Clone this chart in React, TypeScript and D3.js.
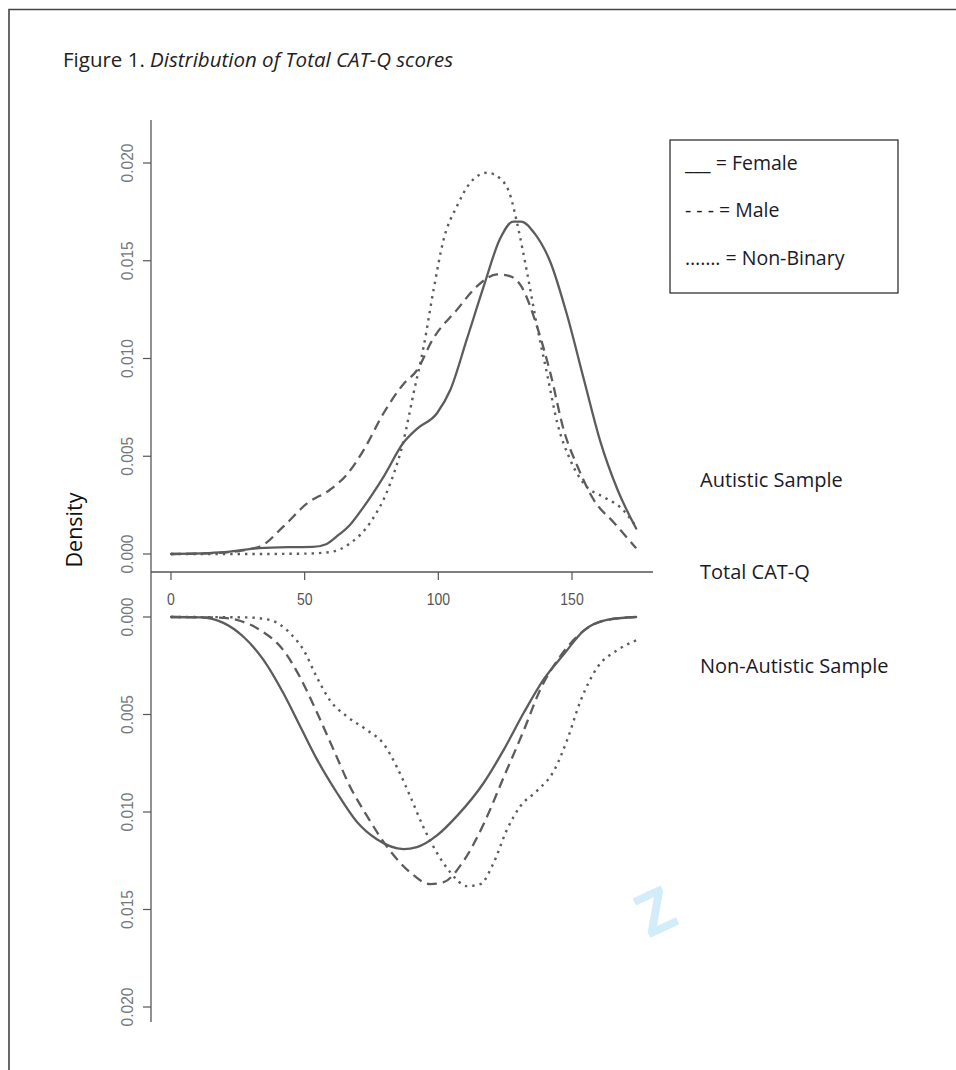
import React from "react";
import * as d3 from "d3";

// Total CAT-Q score grid points and kernel density estimates per gender.
// Autistic sample (drawn upward)
const autFemaleX = [0, 20, 33, 45, 53, 58, 62, 67, 72, 79.5, 87, 92, 99.5, 104.5, 110.7, 117, 123, 128, 131, 136, 142, 148, 154.5, 160.5, 167, 174];
const autFemaleY = [0, 0.0001, 0.0003, 0.00035, 0.00036, 0.0005, 0.0009, 0.0015, 0.0024, 0.00395, 0.0057, 0.0064, 0.0072, 0.0084, 0.011, 0.0137, 0.0161, 0.017, 0.017, 0.0164, 0.0149, 0.0123, 0.0089, 0.0058, 0.0033, 0.0013];

const autMaleX = [0, 17, 33, 42, 51, 59.6, 66, 72, 79.5, 87, 92, 98, 107, 114.5, 122, 127, 131, 137, 142, 147, 152, 158, 165.7, 174];
const autMaleY = [0, 0.00005, 0.00037, 0.0014, 0.0026, 0.0033, 0.0041, 0.0053, 0.0072, 0.0087, 0.0094, 0.011, 0.0125, 0.0137, 0.0143, 0.0142, 0.0137, 0.0116, 0.0092, 0.0063, 0.0045, 0.0028, 0.0016, 0.0003];

const autNonBinaryX = [0, 30, 50, 59.6, 67, 74.5, 82, 87, 90.7, 94.5, 98.2, 102, 107, 112, 118.2, 123.2, 127, 129.5, 133.2, 137, 140.7, 144.5, 149.4, 154.4, 162, 168, 174];
const autNonBinaryY = [0, 0, 0.00002, 0.0001, 0.00055, 0.0016, 0.0036, 0.0058, 0.0082, 0.0106, 0.0135, 0.0161, 0.0178, 0.019, 0.0195, 0.0192, 0.0183, 0.0169, 0.0144, 0.0116, 0.0092, 0.0067, 0.0048, 0.0036, 0.0029, 0.0024, 0.0014];

// Non-autistic sample (drawn downward)
const nonFemaleX = [0, 11, 19.6, 27, 34.6, 42, 48.3, 54.6, 62, 69.5, 77, 87, 92, 99.5, 107, 117, 124.5, 132, 139.4, 147, 154.4, 163, 174];
const nonFemaleY = [0, 0.00002, 0.0003, 0.001, 0.0022, 0.0039, 0.0056, 0.0073, 0.009, 0.0105, 0.0114, 0.0119, 0.0118, 0.0112, 0.0102, 0.0085, 0.0068, 0.0049, 0.0032, 0.0019, 0.0007, 0.00015, 0];

const nonMaleX = [0, 18, 24.6, 33.3, 42, 48.3, 54.6, 60.8, 67, 73.3, 82, 89.5, 97, 102, 109.5, 117, 124.5, 132, 138.2, 145.7, 154.4, 163, 174];
const nonMaleY = [0, 0.00003, 0.00015, 0.00067, 0.0017, 0.0031, 0.0049, 0.0068, 0.0087, 0.0102, 0.012, 0.0131, 0.0137, 0.0136, 0.0125, 0.0106, 0.0082, 0.0058, 0.0037, 0.002, 0.0007, 0.00015, 0];

const nonNonBinaryX = [0, 28, 37, 44.6, 49.6, 54.6, 59.6, 65.8, 73.3, 79.5, 84.5, 89.5, 94.5, 99.5, 104.5, 110.7, 115.7, 120.7, 125.7, 130.7, 137, 143.2, 148.2, 153.2, 159.4, 167, 174];
const nonNonBinaryY = [0, 0.00002, 0.00015, 0.00084, 0.0017, 0.0031, 0.0043, 0.0051, 0.0058, 0.0065, 0.0077, 0.0092, 0.0108, 0.0121, 0.0131, 0.0138, 0.0137, 0.0126, 0.0109, 0.0097, 0.0089, 0.0079, 0.0063, 0.0043, 0.0026, 0.0017, 0.0012];

const xTicks = [0, 50, 100, 150];
const yTicks = [0, 0.005, 0.01, 0.015, 0.02];

const legendLabels = ["___ = Female", "- - -  = Male", "……. = Non-Binary"];

const W = 956;
const H = 1070;

const x = d3.scaleLinear().domain([0, 150]).range([171, 572]);
const yTop = d3.scaleLinear().domain([0, 0.02]).range([554, 163]);
const yBottom = d3.scaleLinear().domain([0, 0.02]).range([617, 1007]);

const fmt = d3.format(".3f");
const lineColor = "#5c5c5c";
const axisColor = "#555";
const textFont = "'Open Sans', 'Noto Sans', sans-serif";
const axisFont = "'Liberation Sans', Arial, sans-serif";

type Series = { xs: number[]; ys: number[]; dash: string; width: number };

const topSeries: Series[] = [
  { xs: autFemaleX, ys: autFemaleY, dash: "none", width: 2.3 },
  { xs: autMaleX, ys: autMaleY, dash: "10,6", width: 2.3 },
  { xs: autNonBinaryX, ys: autNonBinaryY, dash: "2.4,5", width: 2.4 },
];
const bottomSeries: Series[] = [
  { xs: nonFemaleX, ys: nonFemaleY, dash: "none", width: 2.3 },
  { xs: nonMaleX, ys: nonMaleY, dash: "10,6", width: 2.3 },
  { xs: nonNonBinaryX, ys: nonNonBinaryY, dash: "2.4,5", width: 2.4 },
];

function pathFor(s: Series, y: d3.ScaleLinear<number, number>) {
  const pts: [number, number][] = s.xs.map((v, i) => [v, s.ys[i]]);
  return d3
    .line<[number, number]>()
    .x((d) => x(d[0]))
    .y((d) => y(d[1]))
    .curve(d3.curveMonotoneX)(pts) as string;
}

function YAxis({ y }: { y: d3.ScaleLinear<number, number> }) {
  return (
    <g>
      {yTicks.map((t) => (
        <g key={t}>
          <line x1={143} x2={151} y1={y(t)} y2={y(t)} stroke={axisColor} strokeWidth={1.2} />
          <text
            transform={`translate(127,${y(t)}) rotate(-90) scale(1,1.1)`}
            textAnchor="middle"
            dominantBaseline="central"
            fontFamily={axisFont}
            fontSize={15.5}
            fill="#777"
          >
            {fmt(t)}
          </text>
        </g>
      ))}
    </g>
  );
}

export default function App() {
  const xAxisY = 572;
  return (
    <svg width={W} height={H} style={{ position: "absolute", left: 0, top: 0, background: "#fff" }}>
      {/* page frame */}
      <path d={`M9,${H} V9.5 H${W}`} fill="none" stroke="#444" strokeWidth={1.6} />

      {/* title */}
      <text x={63} y={59} dominantBaseline="central" fontFamily={textFont} fontSize={20.5} fill="#222">
        Figure 1. <tspan fontStyle="italic">Distribution of Total CAT-Q scores</tspan>
      </text>

      {/* shared vertical axis */}
      <line x1={151} x2={151} y1={120} y2={1022} stroke={axisColor} strokeWidth={1.3} />
      <YAxis y={yTop} />
      <YAxis y={yBottom} />

      {/* x axis between the panels */}
      <line x1={151} x2={653} y1={xAxisY} y2={xAxisY} stroke={axisColor} strokeWidth={1.3} />
      {xTicks.map((t) => (
        <g key={t}>
          <line x1={x(t)} x2={x(t)} y1={xAxisY} y2={xAxisY + 8} stroke={axisColor} strokeWidth={1.2} />
          <text
            transform={`translate(${x(t)},599) scale(1,1.15)`}
            textAnchor="middle"
            dominantBaseline="central"
            fontFamily={axisFont}
            fontSize={14}
            fill="#555"
          >
            {t}
          </text>
        </g>
      ))}

      {/* density curves */}
      {topSeries.map((s, i) => (
        <path
          key={`t${i}`}
          d={pathFor(s, yTop)}
          fill="none"
          stroke={lineColor}
          strokeWidth={s.width}
          strokeDasharray={s.dash}
          strokeLinecap={s.dash === "none" ? "round" : "butt"}
        />
      ))}
      {bottomSeries.map((s, i) => (
        <path
          key={`b${i}`}
          d={pathFor(s, yBottom)}
          fill="none"
          stroke={lineColor}
          strokeWidth={s.width}
          strokeDasharray={s.dash}
          strokeLinecap={s.dash === "none" ? "round" : "butt"}
        />
      ))}

      {/* y label */}
      <text
        transform="translate(73,530) rotate(-90)"
        textAnchor="middle"
        dominantBaseline="central"
        fontFamily={textFont}
        fontSize={21.5}
        fill="#111"
      >
        Density
      </text>

      {/* legend */}
      <rect x={670} y={140} width={228} height={153} fill="#fff" stroke="#222" strokeWidth={1.2} />
      {legendLabels.map((l, i) => (
        <text
          key={l}
          x={685}
          y={162 + i * 47.5}
          dominantBaseline="central"
          fontFamily={textFont}
          fontSize={19.5}
          fill="#1a1a28"
        >
          {l}
        </text>
      ))}

      {/* panel captions */}
      <text x={700} y={479} dominantBaseline="central" fontFamily={textFont} fontSize={20} fill="#1a1a28">
        Autistic Sample
      </text>
      <text x={700} y={571} dominantBaseline="central" fontFamily={textFont} fontSize={20} fill="#1a1a28">
        Total CAT-Q
      </text>
      <text x={700} y={665} dominantBaseline="central" fontFamily={textFont} fontSize={20} fill="#1a1a28">
        Non-Autistic Sample
      </text>

      {/* faint watermark glyph */}
      <text
        transform="translate(655,910) rotate(-25)"
        textAnchor="middle"
        dominantBaseline="central"
        fontFamily={textFont}
        fontWeight={700}
        fontSize={60}
        fill="#d3ecf9"
      >
        Z
      </text>
    </svg>
  );
}
